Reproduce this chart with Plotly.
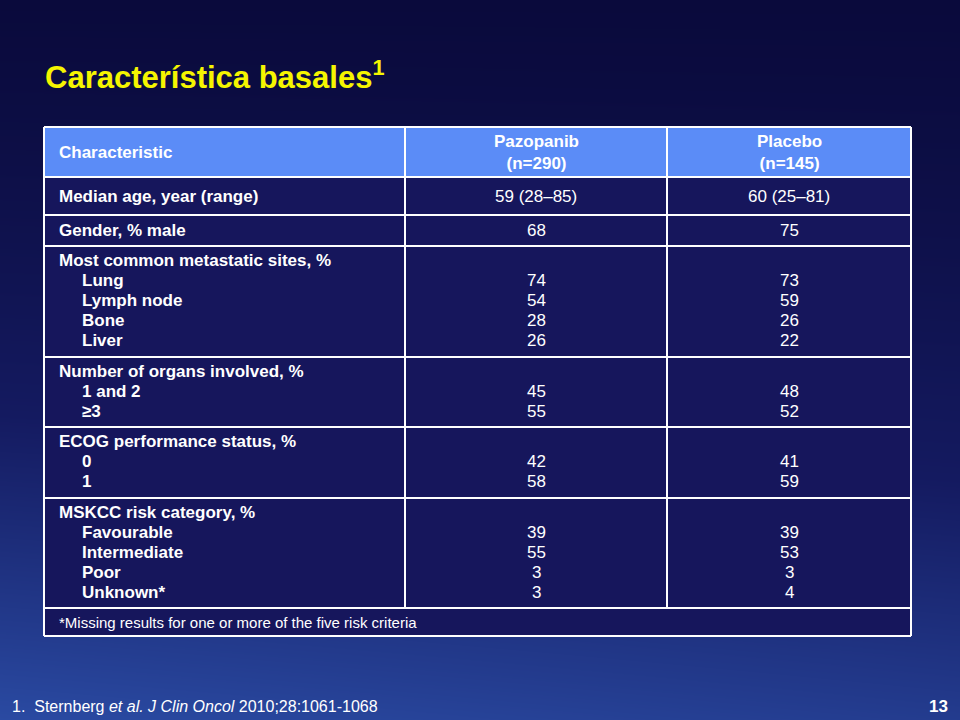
import numpy as np
import plotly.graph_objects as go

title = "Característica basales<sup>1</sup>"
headers = ["Characteristic", "Pazopanib<br>(n=290)", "Placebo<br>(n=145)"]
row_heads = ["Median age, year (range)", "Gender, % male", "Most common metastatic sites, %",
             "Number of organs involved, %", "ECOG performance status, %", "MSKCC risk category, %"]
row_subs = [[], [], ["Lung", "Lymph node", "Bone", "Liver"], ["1 and 2", "≥3"], ["0", "1"],
            ["Favourable", "Intermediate", "Poor", "Unknown*"]]
pazopanib = [["59 (28–85)"], ["68"], ["74", "54", "28", "26"], ["45", "55"], ["42", "58"],
             ["39", "55", "3", "3"]]
placebo = [["60 (25–81)"], ["75"], ["73", "59", "26", "22"], ["48", "52"], ["41", "59"],
           ["39", "53", "3", "4"]]
footnote = "*Missing results for one or more of the five risk criteria"
reference = "1.  Sternberg <i>et al. J Clin Oncol</i> 2010;28:1061-1068"
page = "13"

# layout geometry (pixels)
X0, X1, X2, X3 = 44, 405, 667, 911
row_lines = [127, 177, 215, 246, 357, 427, 498, 608, 636]
FONT = "Liberation Sans, Arial"

fig = go.Figure()

# background gradient
gx = np.linspace(0, 960, 20)
gy = np.linspace(0, 720, 20)
gz = np.array([[0.85 * (y / 720) ** 1.3 + 0.15 * (1 - x / 960) * (y / 720) for x in gx] for y in gy])
fig.add_trace(go.Heatmap(x=gx, y=gy, z=gz, zsmooth="best", showscale=False, hoverinfo="skip",
                         colorscale=[[0, "#0a0a3c"], [0.5, "#141a60"], [1, "#2a4aa2"]]))

shapes = []
# body fill + header fill
shapes.append(dict(type="rect", x0=X0, x1=X3, y0=row_lines[1], y1=row_lines[-1],
                   fillcolor="#16165c", line_width=0, layer="above"))
shapes.append(dict(type="rect", x0=X0, x1=X3, y0=row_lines[0], y1=row_lines[1],
                   fillcolor="#5b8cf7", line_width=0, layer="above"))
for y in row_lines:
    shapes.append(dict(type="line", x0=X0, x1=X3, y0=y, y1=y, line=dict(color="white", width=2)))
for x in [X0, X3]:
    shapes.append(dict(type="line", x0=x, x1=x, y0=row_lines[0], y1=row_lines[-1],
                       line=dict(color="white", width=2)))
for x in [X1, X2]:
    shapes.append(dict(type="line", x0=x, x1=x, y0=row_lines[0], y1=row_lines[-2],
                       line=dict(color="white", width=2)))

ann = []
def txt(x, y, s, size=17, anchor="left", bold=True, color="white"):
    ann.append(dict(x=x, y=y, text=f"<b>{s}</b>" if bold else s, showarrow=False, xanchor=anchor,
                    yanchor="middle", font=dict(family=FONT, size=size, color=color)))

hy = (row_lines[0] + row_lines[1]) / 2
txt(57, hy, headers[0])
txt((X1 + X2) / 2, hy, headers[1], anchor="center")
txt((X2 + X3) / 2, hy, headers[2], anchor="center")

for i, head in enumerate(row_heads):
    top, bot = row_lines[i + 1], row_lines[i + 2]
    subs = row_subs[i]
    if not subs:
        yc = (top + bot) / 2
        txt(57, yc, head)
        txt((X1 + X2) / 2, yc, pazopanib[i][0], bold=False, anchor="center")
        txt((X2 + X3) / 2, yc, placebo[i][0], bold=False, anchor="center")
        continue
    txt(57, top + 14, head)
    for j, s in enumerate(subs):
        y = top + 14 + 20 * (j + 1)
        txt(80, y, s)
        txt((X1 + X2) / 2, y, pazopanib[i][j], bold=False, anchor="center")
        txt((X2 + X3) / 2, y, placebo[i][j], bold=False, anchor="center")

txt(57, (row_lines[-2] + row_lines[-1]) / 2, footnote, size=15, bold=False)
txt(43, 75, title, size=31, color="#f5f500")
txt(10, 706, reference, size=16, bold=False)
txt(950, 706, page, size=17, anchor="right")

fig.update_layout(width=960, height=720, margin=dict(l=0, r=0, t=0, b=0),
                  shapes=shapes, annotations=ann, showlegend=False,
                  xaxis=dict(range=[0, 960], visible=False, fixedrange=True),
                  yaxis=dict(range=[720, 0], visible=False, fixedrange=True),
                  plot_bgcolor="#0a0a3c", paper_bgcolor="#0a0a3c")
fig.write_html("out.html", config={"displayModeBar": False})

# drop the browser's default page margin so the slide fills the window
with open("out.html", encoding="utf-8") as f:
    page_html = f.read()
page_html = page_html.replace("<body>", '<body style="margin:0;overflow:hidden;background:#0a0a3c">', 1)
with open("out.html", "w", encoding="utf-8") as f:
    f.write(page_html)
